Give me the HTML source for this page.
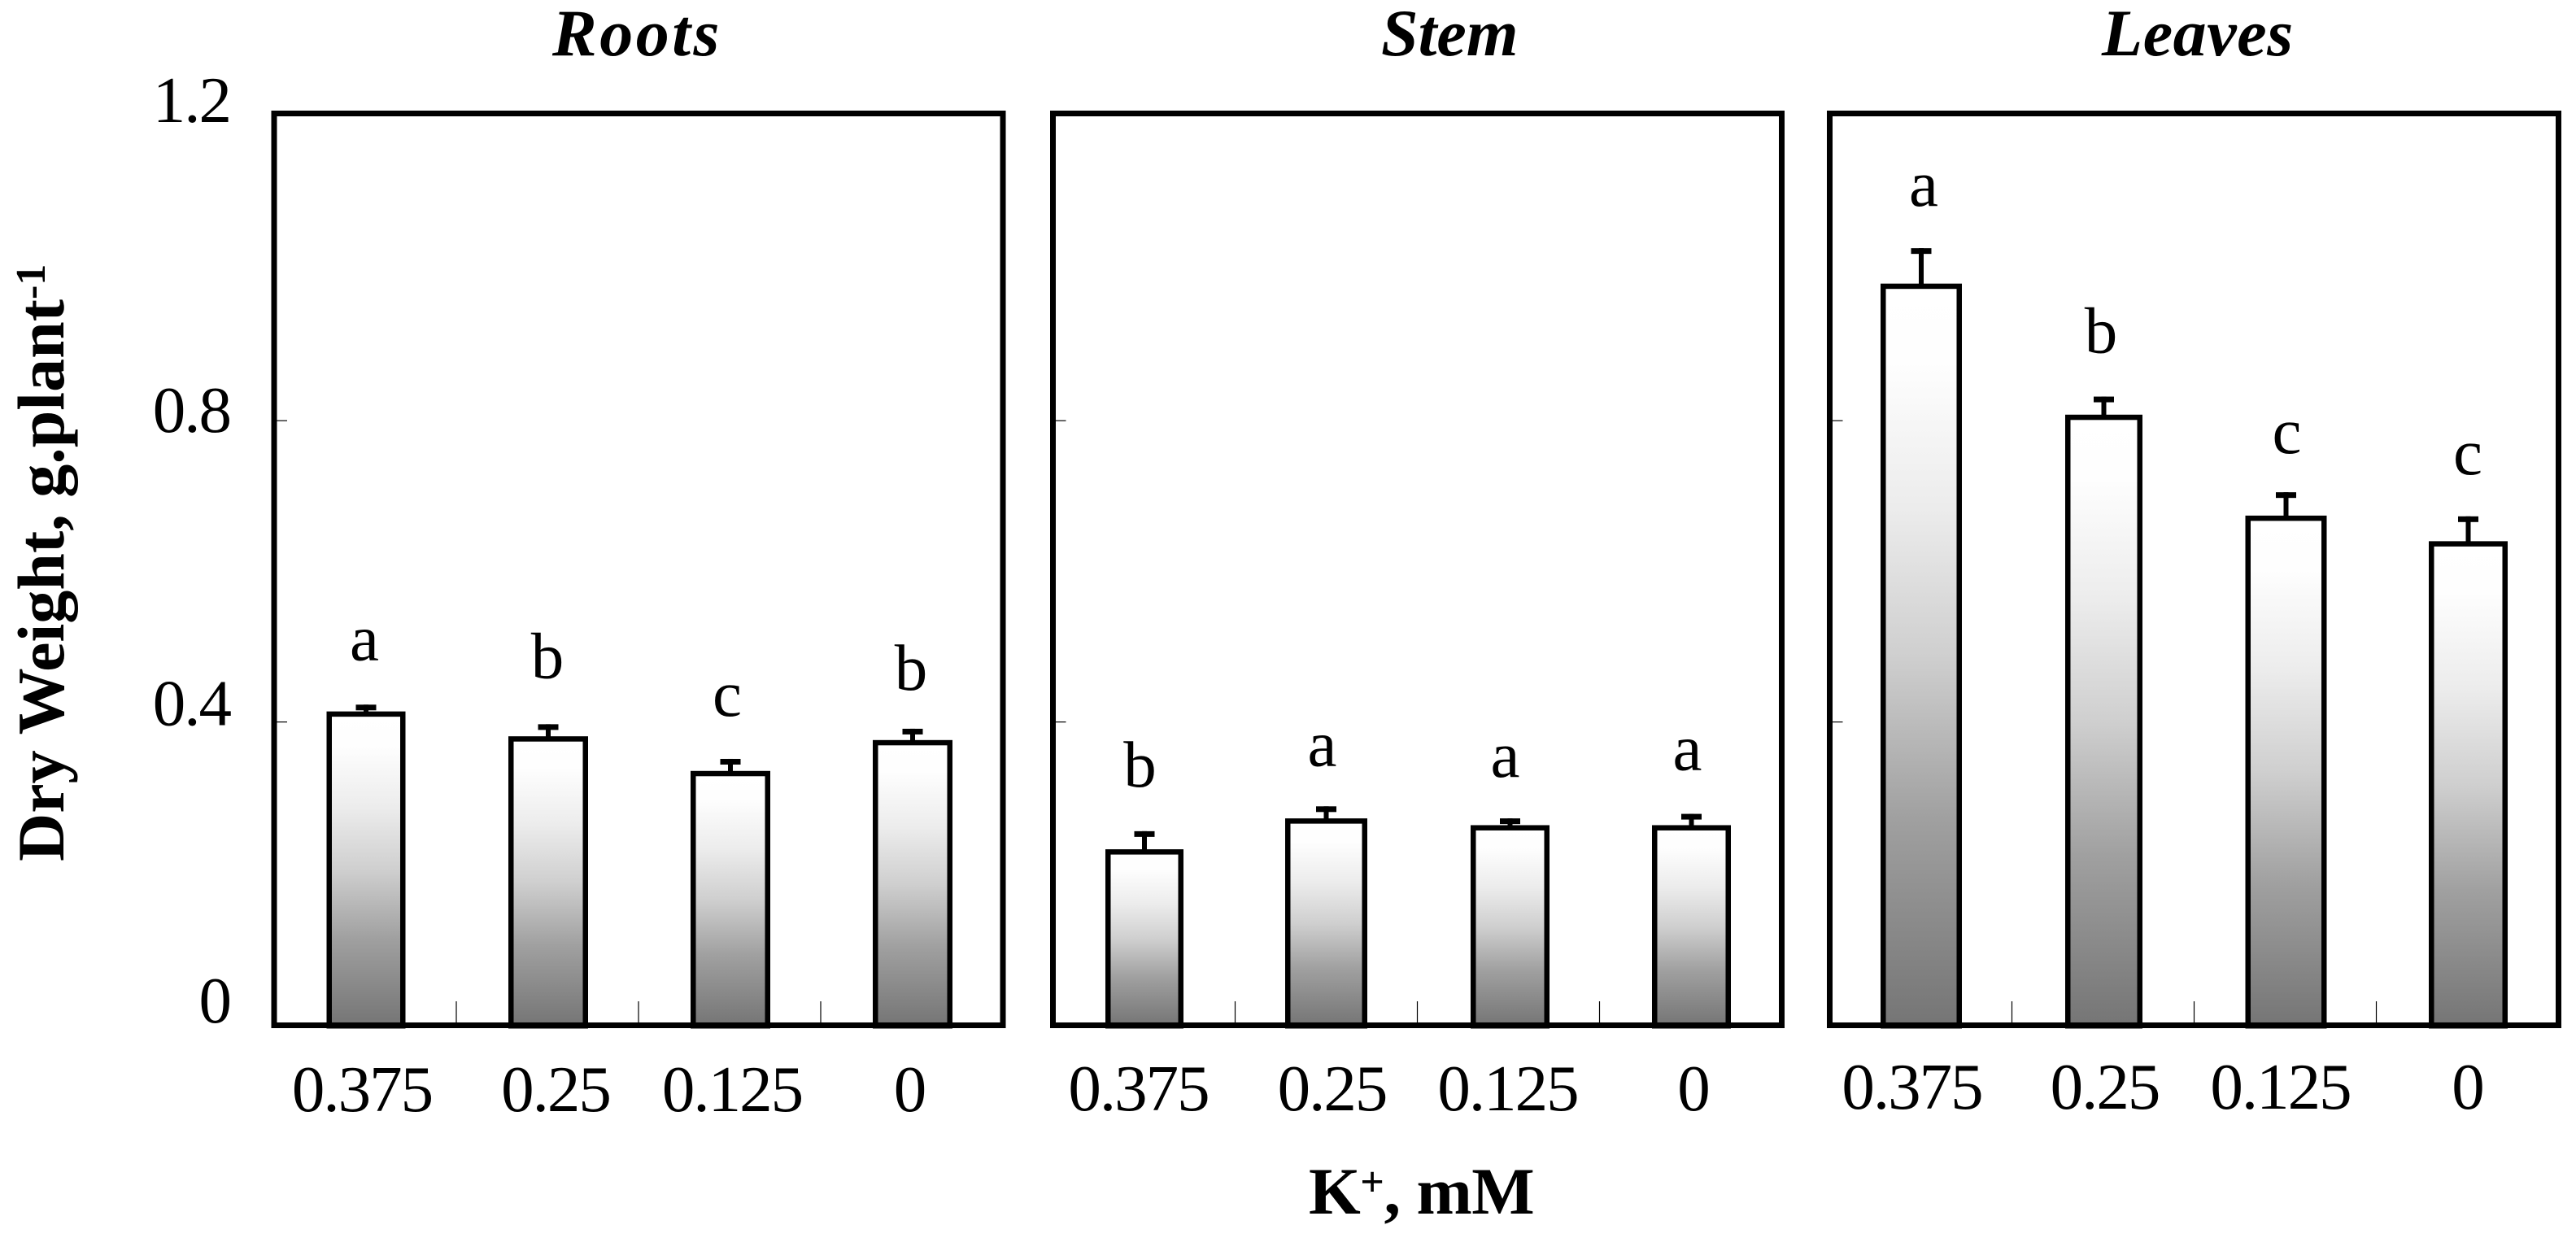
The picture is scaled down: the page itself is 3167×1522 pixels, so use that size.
<!DOCTYPE html>
<html lang="en">
<head>
<meta charset="utf-8">
<title>Dry weight by K+ concentration</title>
<style>
  html, body { margin: 0; padding: 0; background: #fff; }
  svg { display: block; }
  text { font-family: "Liberation Serif", serif; fill: #000; }
  .num { font-size: 81px; letter-spacing: -2px; }
  .sig { font-size: 81px; }
  .panel-title { font-size: 82px; font-weight: bold; font-style: italic; text-anchor: start; }
  .axis-title { font-size: 82px; font-weight: bold; }
</style>
</head>
<body>
<svg id="chart" xmlns="http://www.w3.org/2000/svg" width="3167" height="1522" viewBox="0 0 3167 1522">
  <defs>
    <linearGradient id="barFill" x1="0" y1="0" x2="0" y2="1">
      <stop offset="0" stop-color="#ffffff"/>
      <stop offset="0.1" stop-color="#fefefe"/>
      <stop offset="0.3" stop-color="#ececec"/>
      <stop offset="0.5" stop-color="#cfcfcf"/>
      <stop offset="0.72" stop-color="#a0a0a0"/>
      <stop offset="1" stop-color="#757575"/>
    </linearGradient>
  </defs>
  <text class="panel-title" x="679" y="68" style="letter-spacing:3.5px">Roots</text>
  <text class="panel-title" x="1698" y="68">Stem</text>
  <text class="panel-title" x="2584" y="68" style="letter-spacing:0.6px">Leaves</text>
  <text class="axis-title" transform="translate(78,1059) rotate(-90)">Dry Weight, g.plant<tspan font-size="52" dy="-23">-1</tspan></text>
  <text class="axis-title" x="1609" y="1492" font-size="80" style="letter-spacing:-0.5px">K<tspan font-size="52" dy="-22">+</tspan><tspan dy="22">, mM</tspan></text>
  <g id="plots"></g>
</svg>
<script>
const categories = ["0.375", "0.25", "0.125", "0"];
const yTickValues = [0, 0.4, 0.8, 1.2];
const yTickLabels = ["0", "0.4", "0.8", "1.2"];
const yMinorTicks = [0.4, 0.8];

const rootsValues = [0.414, 0.381, 0.335, 0.376];
const rootsErrors = [0.009, 0.016, 0.016, 0.015];
const rootsLetters = ["a", "b", "c", "b"];

const stemValues = [0.231, 0.272, 0.263, 0.263];
const stemErrors = [0.024, 0.016, 0.009, 0.015];
const stemLetters = ["b", "a", "a", "a"];

const leavesValues = [0.982, 0.808, 0.674, 0.640];
const leavesErrors = [0.047, 0.024, 0.031, 0.033];
const leavesLetters = ["a", "b", "c", "c"];

const NS = "http://www.w3.org/2000/svg";
const plots = document.getElementById("plots");
const BAND = 224, PANEL_W = 896, TOP = 139.5, BOTTOM = 1260.5;

function yScale(v) { return 1258 - 926 * v; }
function xBand(x0, i) { return x0 + (i + 0.5) * BAND; }

function make(tag, attrs, parent) {
  const el = document.createElementNS(NS, tag);
  for (const k in attrs) el.setAttribute(k, attrs[k]);
  parent.appendChild(el);
  return el;
}

const yLabelNudge = [-1, 4, 14, 3];
yTickValues.forEach(function (v, i) {
  const t = make("text", { x: 283, y: yScale(v) + yLabelNudge[i], "text-anchor": "end", "class": "num" }, plots);
  
  
  t.textContent = yTickLabels[i];
});

function drawPanel(name, x0, values, errors, letters, layout) {
  const g = make("g", {}, plots);
  
  

  yMinorTicks.forEach(function (v) {
    const t = make("line", { x1: x0 + 3, x2: x0 + 16, y1: yScale(v), y2: yScale(v), stroke: "#000", "stroke-width": 1.2 }, g);
    
    
  });

  for (let k = 1; k < categories.length; k++) {
    const t = make("line", { x1: x0 + k * BAND, x2: x0 + k * BAND, y1: 1231, y2: 1258, stroke: "#000", "stroke-width": 1.2 }, g);
    
    
  }

  values.forEach(function (v, i) {
    const band = xBand(x0, i);
    const cx = band + layout.barDx[i];
    const w = layout.barW[i];
    const top = yScale(v);
    const capTop = yScale(v + errors[i]);

    const stem = make("rect", { x: cx - 3, y: capTop, width: 6, height: top - capTop + 2, fill: "#000" }, g);
    
    

    const cap = make("rect", { x: cx - 12.5, y: capTop, width: 25, height: 7, fill: "#000" }, g);
    
    

    const bar = make("rect", {
      x: cx - w / 2 + 3.25, y: top + 3.25,
      width: w - 6.5, height: yScale(0) - top,
      fill: "url(#barFill)", stroke: "#000", "stroke-width": 6.5
    }, g);
    
    

    const sig = make("text", { x: band + layout.letterDx[i], y: capTop - layout.letterGap[i], "text-anchor": "middle", "class": "sig" }, g);
    
    
    sig.textContent = letters[i];

    const xl = make("text", { x: band + layout.labelDx[i], y: layout.labelY, "text-anchor": "middle", "class": "num" }, g);
    
    
    xl.textContent = categories[i];
  });

  const frame = make("rect", { x: x0, y: TOP, width: PANEL_W, height: BOTTOM - TOP, fill: "none", stroke: "#000", "stroke-width": 7 }, g);
  
  
}

drawPanel("roots", 337, rootsValues, rootsErrors, rootsLetters, {
  barDx: [1, 1, 1, 1], barW: [97, 98, 98, 98],
  letterDx: [-1, 0, -3, -1], letterGap: [55, 57, 53, 48],
  labelDx: [-4, 10, 3, -3], labelY: 1366
});
drawPanel("stem", 1294.5, stemValues, stemErrors, stemLetters, {
  barDx: [0.5, 0, 2, 1], barW: [96, 101, 97, 97],
  letterDx: [-5, -5, -4, -4], letterGap: [55, 50, 51, 54],
  labelDx: [-7, 7, -1, 3], labelY: 1365
});
drawPanel("leaves", 2249.5, leavesValues, leavesErrors, leavesLetters, {
  barDx: [0.5, 1, 1, 1], barW: [100, 95, 100, 97],
  letterDx: [3.5, -2.5, 2, 0.5], letterGap: [52, 54, 48, 52],
  labelDx: [-11, 2, -6, 0], labelY: 1363
});
</script>
</body>
</html>
